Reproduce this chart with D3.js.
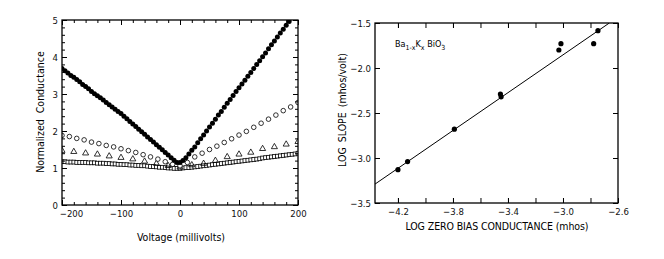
<!DOCTYPE html>
<html><head><meta charset="utf-8">
<script src="https://cdn.jsdelivr.net/npm/d3@7"></script>
<style>
html,body{margin:0;padding:0;background:#fff;}
svg{display:block;font-family:"Liberation Sans Narrow","DejaVu Sans Condensed","DejaVu Sans",sans-serif;font-stretch:condensed;}
</style></head><body>
<svg id="c" width="664" height="259"></svg>
<script>
// ---------- Left panel data ----------
const voltages = [-200,-195,-190,-185,-180,-175,-170,-165,-160,-155,-150,-145,-140,-135,-130,-125,-120,-115,-110,-105,-100,-95,-90,-85,-80,-75,-70,-65,-60,-55,-50,-45,-40,-35,-30,-25,-20,-15,-10,-5,0,5,10,15,20,25,30,35,40,45,50,55,60,65,70,75,80,85,90,95,100,105,110,115,120,125,130,135,140,145,150,155,160,165,170,175,180,185,190,195,200];
const filledCond = [3.69,3.63,3.57,3.50,3.45,3.39,3.33,3.26,3.20,3.14,3.07,3.01,2.95,2.90,2.84,2.77,2.71,2.65,2.59,2.53,2.47,2.40,2.33,2.26,2.19,2.12,2.05,1.98,1.91,1.84,1.77,1.70,1.63,1.56,1.49,1.42,1.35,1.28,1.21,1.15,1.15,1.20,1.28,1.38,1.48,1.57,1.68,1.79,1.89,2.00,2.11,2.21,2.32,2.43,2.53,2.64,2.75,2.85,2.96,3.07,3.17,3.27,3.37,3.48,3.58,3.69,3.80,3.90,4.01,4.11,4.22,4.33,4.43,4.54,4.65,4.75,4.86,4.96,5.07];
const squareCond = [1.17,1.17,1.16,1.16,1.16,1.15,1.15,1.15,1.15,1.14,1.14,1.14,1.13,1.13,1.13,1.12,1.12,1.11,1.11,1.10,1.10,1.09,1.09,1.08,1.08,1.07,1.07,1.06,1.06,1.05,1.04,1.04,1.03,1.02,1.02,1.01,1.00,1.00,0.99,0.99,0.99,1.00,1.01,1.01,1.02,1.03,1.04,1.05,1.06,1.07,1.08,1.09,1.10,1.11,1.12,1.13,1.14,1.15,1.16,1.17,1.18,1.19,1.20,1.21,1.22,1.23,1.24,1.25,1.27,1.28,1.29,1.30,1.31,1.32,1.33,1.34,1.35,1.36,1.37,1.38,1.40];
const openVoltages = [-200,-187.5,-175,-162.5,-150,-137.5,-125,-112.5,-100,-87.5,-75,-62.5,-50,-37.5,-25,-12.5,0,12.5,25,37.5,50,62.5,75,87.5,100,112.5,125,137.5,150,162.5,175,187.5,200];
const openCond = [1.88,1.85,1.80,1.76,1.70,1.66,1.61,1.57,1.52,1.47,1.42,1.36,1.30,1.24,1.17,1.10,1.06,1.15,1.30,1.40,1.50,1.59,1.69,1.79,1.89,1.99,2.10,2.21,2.32,2.43,2.55,2.65,2.77];
const triVoltages = [-200,-180,-160,-140,-120,-100,-80,-60,-40,-20,0,20,40,60,80,100,120,140,160,180,200];
const triCond = [1.47,1.44,1.40,1.37,1.32,1.28,1.24,1.18,1.12,1.06,1.02,1.08,1.12,1.20,1.30,1.37,1.42,1.52,1.57,1.64,1.71];
const leftXTicks = [-200,-100,0,100,200];
const leftYTicks = [0,1,2,3,4,5];

// ---------- Right panel data ----------
const logG = [-4.20,-4.13,-3.79,-3.455,-3.45,-3.03,-3.015,-2.777,-2.746];
const logS = [-3.13,-3.04,-2.68,-2.29,-2.32,-1.80,-1.73,-1.73,-1.585];
const fitX = [-4.367,-2.663];
const fitY = [-3.29,-1.50];
const rightXTicks = [-4.2,-3.8,-3.4,-3.0,-2.6];
const rightYTicks = [-3.5,-3.0,-2.5,-2.0,-1.5];

const svg = d3.select("#c");
const fmtMinus = s => s.replace("-", "\u2212");

function frameAxes(g, x, y, opt) {
  const [x0,x1] = x.range(), [y0,y1] = y.range();
  // minor ticks
  g.append("g").attr("transform",`translate(0,${y0})`)
    .call(d3.axisBottom(x).tickValues(opt.xMinor).tickSizeInner(-opt.minor).tickSizeOuter(0).tickFormat(""));
  g.append("g").attr("transform",`translate(0,${y1})`)
    .call(d3.axisTop(x).tickValues(opt.xMinor).tickSizeInner(-opt.minor).tickSizeOuter(0).tickFormat(""));
  g.append("g").attr("transform",`translate(${x0},0)`)
    .call(d3.axisLeft(y).tickValues(opt.yMinor).tickSizeInner(-opt.minor).tickSizeOuter(0).tickFormat(""));
  g.append("g").attr("transform",`translate(${x1},0)`)
    .call(d3.axisRight(y).tickValues(opt.yMinor).tickSizeInner(-opt.minor).tickSizeOuter(0).tickFormat(""));
  // major ticks
  const bx = g.append("g").attr("class","bx").attr("transform",`translate(0,${y0})`)
    .call(d3.axisBottom(x).tickValues(opt.xTicks).tickSizeInner(-opt.major).tickSizeOuter(0).tickPadding(5).tickFormat(opt.xFmt));
  g.append("g").attr("transform",`translate(0,${y1})`)
    .call(d3.axisTop(x).tickValues(opt.xTicks).tickSizeInner(-opt.major).tickSizeOuter(0).tickFormat(""));
  const ly = g.append("g").attr("class","ly").attr("transform",`translate(${x0},0)`)
    .call(d3.axisLeft(y).tickValues(opt.yTicks).tickSizeInner(-opt.major).tickSizeOuter(0).tickPadding(4).tickFormat(opt.yFmt));
  g.append("g").attr("transform",`translate(${x1},0)`)
    .call(d3.axisRight(y).tickValues(opt.yTicks).tickSizeInner(-opt.major).tickSizeOuter(0).tickFormat(""));
  g.selectAll(".domain").remove();
  g.selectAll(".tick line").attr("stroke","#000").attr("stroke-width",1);
  g.selectAll(".tick text").attr("font-size",opt.fs).attr("fill","#111")
     .attr("font-family","'Liberation Sans Narrow','DejaVu Sans Condensed',sans-serif");
  g.append("rect").attr("x",x0).attr("y",y1).attr("width",x1-x0).attr("height",y0-y1)
    .attr("fill","none").attr("stroke","#000").attr("stroke-width",1.3);
  return {bx, ly};
}

// ================= LEFT PANEL =================
const xL = d3.scaleLinear().domain([-200,200]).range([62,298]);
const yL = d3.scaleLinear().domain([0,5]).range([205,20]);
const gL = svg.append("g");
svg.append("defs").append("clipPath").attr("id","clipL")
  .append("rect").attr("x",62).attr("y",20).attr("width",236).attr("height",185);

const marks = gL.append("g").attr("clip-path","url(#clipL)");
// squares
marks.append("g").selectAll("rect").data(voltages.map((v,i)=>[v,squareCond[i]])).join("rect")
  .attr("x",d=>xL(d[0])-1.9).attr("y",d=>yL(d[1])-1.9).attr("width",3.8).attr("height",3.8)
  .attr("fill","#fff").attr("stroke","#000").attr("stroke-width",0.8);
// triangles
marks.append("g").selectAll("path").data(triVoltages.map((v,i)=>[v,triCond[i]])).join("path")
  .attr("transform",d=>`translate(${xL(d[0])},${yL(d[1])})`)
  .attr("d",d3.symbol(d3.symbolTriangle,16))
  .attr("fill","none").attr("stroke","#000").attr("stroke-width",0.8);
// open circles
marks.append("g").selectAll("circle").data(openVoltages.map((v,i)=>[v,openCond[i]])).join("circle")
  .attr("cx",d=>xL(d[0])).attr("cy",d=>yL(d[1])).attr("r",2.3)
  .attr("fill","#fff").attr("stroke","#000").attr("stroke-width",0.8);
// filled circles
marks.append("g").selectAll("circle").data(filledCond.map((c,i)=>[voltages[i],c])).join("circle")
  .attr("cx",d=>xL(d[0])).attr("cy",d=>yL(d[1])).attr("r",2.5).attr("fill","#000");

const axL = frameAxes(gL, xL, yL, {
  xTicks:leftXTicks, xMinor:d3.range(-200,201,20), yTicks:leftYTicks, yMinor:d3.range(0,5.01,0.2),
  major:5, minor:3, fs:9.5, xFmt:d=>fmtMinus(String(d)), yFmt:d=>String(d)
});
axL.bx.selectAll(".tick text").filter(d=>d===-200).attr("dx",9);

gL.append("text").attr("x",181).attr("y",241).attr("text-anchor","middle")
  .attr("font-size",10.5).text("Voltage (millivolts)");
gL.append("text").attr("transform","translate(44,112) rotate(-90)").attr("text-anchor","middle")
  .attr("font-size",10.5).attr("word-spacing",3).text("Normalized Conductance");

// ================= RIGHT PANEL =================
const xR = d3.scaleLinear().domain([-4.367,-2.6]).range([375,618]);
const yR = d3.scaleLinear().domain([-3.5,-1.5]).range([203,23]);
const gR = svg.append("g");
svg.select("defs").append("clipPath").attr("id","clipR")
  .append("rect").attr("x",375).attr("y",23).attr("width",243).attr("height",180);

gR.append("g").attr("clip-path","url(#clipR)").append("line")
  .attr("x1",xR(fitX[0])).attr("y1",yR(fitY[0])).attr("x2",xR(fitX[1])).attr("y2",yR(fitY[1]))
  .attr("stroke","#000").attr("stroke-width",1);
gR.append("g").selectAll("circle").data(logG.map((g,i)=>[g,logS[i]])).join("circle")
  .attr("cx",d=>xR(d[0])).attr("cy",d=>yR(d[1])).attr("r",2.6).attr("fill","#000");

frameAxes(gR, xR, yR, {
  xTicks:rightXTicks, xMinor:[-4.2,-4.0,-3.8,-3.6,-3.4,-3.2,-3.0,-2.8,-2.6], yTicks:rightYTicks, yMinor:rightYTicks,
  major:5, minor:5, fs:9.5, xFmt:d=>fmtMinus(d3.format(".1f")(d)), yFmt:d=>fmtMinus(d3.format(".1f")(d))
});

gR.append("text").attr("x",497).attr("y",230).attr("text-anchor","middle")
  .attr("font-size",10.5).attr("textLength",183).attr("lengthAdjust","spacing")
  .text("LOG  ZERO  BIAS  CONDUCTANCE  (mhos)");
gR.append("text").attr("transform","translate(346,110) rotate(-90)").attr("text-anchor","middle")
  .attr("font-size",10.5).attr("word-spacing",2).text("LOG  SLOPE  (mhos/volt)");

const chem = gR.append("text").attr("x",395).attr("y",47).attr("font-size",9);
chem.append("tspan").text("Ba");
chem.append("tspan").attr("dy",2.5).attr("font-size",7).text("1-x");
chem.append("tspan").attr("dy",-2.5).text("K");
chem.append("tspan").attr("dy",2.5).attr("font-size",7).text("x");
chem.append("tspan").attr("dy",-2.5).text(" BiO");
chem.append("tspan").attr("dy",2.5).attr("font-size",7).text("3");
</script>
</body></html>
